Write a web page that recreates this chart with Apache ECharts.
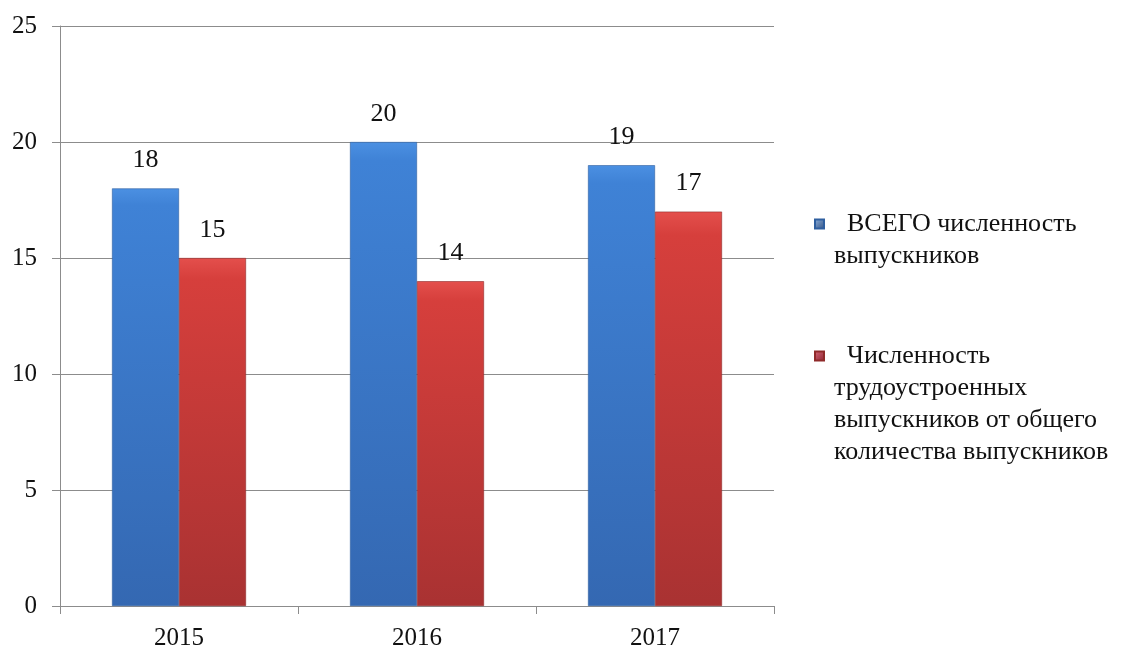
<!DOCTYPE html>
<html>
<head>
<meta charset="utf-8">
<script src="https://cdn.jsdelivr.net/npm/echarts@6/dist/echarts.min.js"></script>
<style>
html,body{margin:0;padding:0;background:#fff;}
#chart{width:1121px;height:649px;}
</style>
</head>
<body>
<div id="chart"></div>
<script>
const categories = ['2015', '2016', '2017'];
const totalGraduates = [18, 20, 19];
const employedGraduates = [15, 14, 17];
const seriesNames = ['ВСЕГО численность выпускников', 'Численность трудоустроенных выпускников от общего количества выпускников'];
const legendLines = [['  ВСЕГО численность', 'выпускников'], ['  Численность', 'трудоустроенных', 'выпускников от общего', 'количества выпускников']];

const FONT = '"Liberation Serif", "DejaVu Serif", serif';
const LH = 32;

const blueFill = new echarts.graphic.LinearGradient(0, 0, 0, 1, [
  {offset: 0, color: '#4b90e2'},
  {offset: 0.04, color: '#3f82d6'},
  {offset: 1, color: '#3468b2'}
]);
const redFill = new echarts.graphic.LinearGradient(0, 0, 0, 1, [
  {offset: 0, color: '#e44f4c'},
  {offset: 0.06, color: '#d63f3c'},
  {offset: 1, color: '#a93232'}
]);
const blueIcon = new echarts.graphic.LinearGradient(0, 0, 1, 1, [
  {offset: 0, color: '#8fb2de'}, {offset: 1, color: '#2f4f80'}
]);
const redIcon = new echarts.graphic.LinearGradient(0, 0, 1, 1, [
  {offset: 0, color: '#d86a78'}, {offset: 1, color: '#8a2030'}
]);

function makeLegend(idx, iconCenterY, iconColor) {
  const n = legendLines[idx].length;
  const total = 2 * n - 1;
  return {
    orient: 'vertical',
    left: 814,
    top: iconCenterY - total * LH / 2,
    padding: 0,
    itemWidth: 9,
    itemHeight: 9,
    icon: 'rect',
    selectedMode: false,
    data: [{name: seriesNames[idx], itemStyle: {color: iconColor}}],
    formatter: function () { return '\n'.repeat(n - 1) + legendLines[idx].join('\n'); },
    textStyle: {fontFamily: FONT, fontSize: 26, lineHeight: LH, color: '#111', padding: [0, 0, 0, 5]}
  };
}

const chart = echarts.init(document.getElementById('chart'));
chart.setOption({
  animation: false,
  backgroundColor: '#ffffff',
  grid: {left: 60, right: 347, top: 26, bottom: 43, containLabel: false, outerBoundsMode: 'none'},
  legend: [makeLegend(0, 224, blueIcon), makeLegend(1, 356, redIcon)],
  xAxis: {
    type: 'category',
    data: categories,
    axisLine: {lineStyle: {color: '#8c8c8c', width: 1}},
    axisTick: {show: true, length: 8, alignWithLabel: false, lineStyle: {color: '#8c8c8c'}},
    axisLabel: {fontFamily: FONT, fontSize: 25, color: '#111', margin: 20}
  },
  yAxis: {
    type: 'value',
    min: 0, max: 25, interval: 5,
    axisLine: {show: true, lineStyle: {color: '#8c8c8c', width: 1}},
    axisTick: {show: true, length: 8, lineStyle: {color: '#8c8c8c'}},
    axisLabel: {fontFamily: FONT, fontSize: 25, color: '#111', margin: 23},
    splitLine: {show: true, lineStyle: {color: '#8c8c8c', width: 1}}
  },
  series: [
    {
      name: seriesNames[0],
      type: 'bar',
      data: totalGraduates,
      barWidth: 67,
      barGap: '0%',
      itemStyle: {color: blueFill, borderColor: '#2f5f9f', borderWidth: 0.6},
      label: {show: true, position: 'top', distance: 15, fontFamily: FONT, fontSize: 26, color: '#111'}
    },
    {
      name: seriesNames[1],
      type: 'bar',
      data: employedGraduates,
      barWidth: 67,
      barGap: '0%',
      itemStyle: {color: redFill, borderColor: '#8f2a2a', borderWidth: 0.6},
      label: {show: true, position: 'top', distance: 15, fontFamily: FONT, fontSize: 26, color: '#111'}
    }
  ]
});
</script>
</body>
</html>
